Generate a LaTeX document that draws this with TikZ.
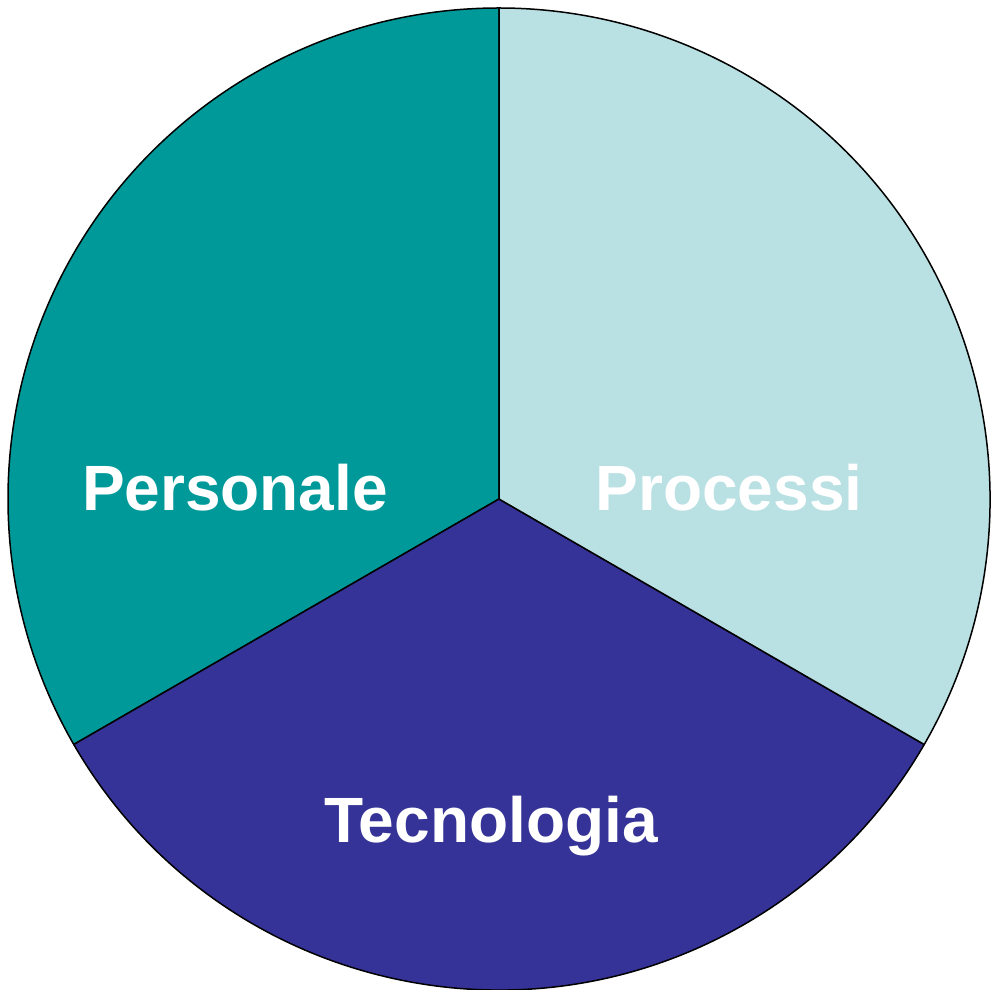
\documentclass[tikz,border=0pt]{standalone}
\usepackage{fontspec}
\setmainfont{Liberation Sans}
\definecolor{tealc}{RGB}{0,153,153}
\definecolor{lightc}{RGB}{185,224,226}
\definecolor{bluec}{RGB}{53,51,151}
\begin{document}
\begin{tikzpicture}[x=1pt,y=1pt,
  slice/.style={draw=black,line width=1.5pt,line join=round},
  lbl/.style={text=white,font=\fontsize{64}{64}\selectfont\bfseries,anchor=base,inner sep=0pt}]
\useasboundingbox (0,0) rectangle (997,989);
\coordinate (c) at (499,490);
\def\R{491}
\filldraw[slice,fill=tealc] (c) -- ++(90:\R) arc[start angle=90,end angle=210,radius=\R] -- cycle;
\filldraw[slice,fill=bluec] (c) -- ++(210:\R) arc[start angle=210,end angle=330,radius=\R] -- cycle;
\filldraw[slice,fill=lightc] (c) -- ++(330:\R) arc[start angle=330,end angle=450,radius=\R] -- cycle;
\node[lbl] (personale) at (235,478) {Personale};
\node[lbl] (processi) at (729,478) {Processi};
\node[lbl] (tecnologia) at (491,146) {Tecnologia};
\end{tikzpicture}
\end{document}
